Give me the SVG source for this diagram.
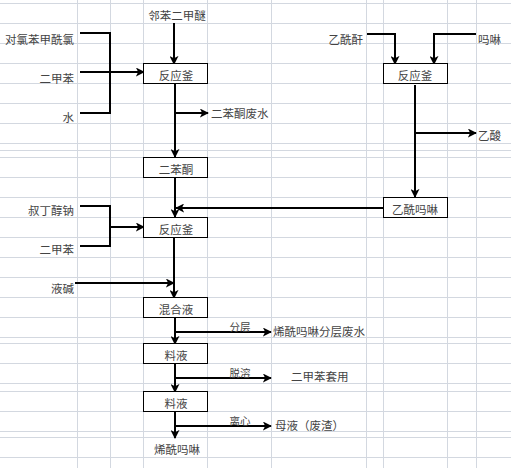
<svg xmlns="http://www.w3.org/2000/svg" width="511" height="468" viewBox="0 0 511 468">
<style>
.g{stroke:#d3d8e0;stroke-width:1;fill:none}
.box{fill:#fff;stroke:#000;stroke-width:1}
.t{font-family:"Noto Sans CJK SC","Noto Sans",sans-serif;font-size:11.5px;fill:#444;dominant-baseline:central}
.m{text-anchor:middle}
.e{text-anchor:end}
.s{font-size:10.5px}
.c{fill:none;stroke:#000;stroke-width:2}
</style>
<defs>
<marker id="arr" viewBox="0 0 10 10" refX="9" refY="5" markerWidth="9" markerHeight="9" markerUnits="userSpaceOnUse" orient="auto">
<path d="M0,0 L10,5 L0,10 L2.5,5 z" fill="#000"/>
</marker>
</defs>
<rect width="511" height="468" fill="#fff"/>
<g id="grid" class="g">
<path d="M0,3.5H511M0,23.5H511M0,43.5H511M0,63.5H511M0,83.5H511M0,103.5H511M0,123.5H511M0,143.5H511M0,150.5H511M0,157.5H511M0,177.5H511M0,197.5H511M0,217.5H511M0,237.5H511M0,257.5H511M0,277.5H511M0,297.5H511M0,317.5H511M0,337.5H511M0,343.5H511M0,363.5H511M0,383.5H511M0,391.5H511M0,411.5H511M0,431.5H511M0,437.5H511M0,457.5H511"/>
<path d="M77.5,0V468M110.5,0V468M143.5,0V468M207.5,0V468M271.5,0V468M366.5,0V468M383.5,0V468M447.5,0V468M476.5,0V468"/>
</g>
<g id="connectors">
<polyline class="c" points="80,33 110,33 110,113 80,113"/>
<line class="c" x1="80" y1="72" x2="144" y2="72" marker-end="url(#arr)"/>
<line class="c" x1="174" y1="23" x2="174" y2="64" marker-end="url(#arr)"/>
<line class="c" x1="175" y1="84" x2="175" y2="157" marker-end="url(#arr)"/>
<line class="c" x1="175" y1="113" x2="208" y2="113" marker-end="url(#arr)"/>
<polyline class="c" points="367,34 395,34 395,64" marker-end="url(#arr)"/>
<polyline class="c" points="476,34 434,34 434,64" marker-end="url(#arr)"/>
<line class="c" x1="415" y1="85" x2="415" y2="197" marker-end="url(#arr)"/>
<line class="c" x1="415" y1="133" x2="476" y2="133" marker-end="url(#arr)"/>
<line class="c" x1="383" y1="208" x2="176" y2="208" marker-end="url(#arr)"/>
<line class="c" x1="175" y1="177" x2="175" y2="217" marker-end="url(#arr)"/>
<polyline class="c" points="80,206 110,206 110,246 80,246"/>
<line class="c" x1="110" y1="227" x2="144" y2="227" marker-end="url(#arr)"/>
<line class="c" x1="174" y1="237" x2="174" y2="298" marker-end="url(#arr)"/>
<line class="c" x1="75" y1="283" x2="174" y2="283" marker-end="url(#arr)"/>
<line class="c" x1="175" y1="318" x2="175" y2="344" marker-end="url(#arr)"/>
<line class="c" x1="175" y1="332" x2="271" y2="332" marker-end="url(#arr)"/>
<line class="c" x1="175" y1="364" x2="175" y2="392" marker-end="url(#arr)"/>
<line class="c" x1="175" y1="378" x2="271" y2="378" marker-end="url(#arr)"/>
<line class="c" x1="175" y1="412" x2="175" y2="438" marker-end="url(#arr)"/>
<line class="c" x1="175" y1="426" x2="271" y2="426" marker-end="url(#arr)"/>
</g>
<g id="n-lbf"><text class="t m" x="177" y="15">邻苯二甲醚</text></g>
<g id="n-dlb"><text class="t e" x="74" y="39">对氯苯甲酰氯</text></g>
<g id="n-xyl1"><text class="t e" x="74" y="78">二甲苯</text></g>
<g id="n-water"><text class="t e" x="74" y="117">水</text></g>
<g id="n-r1"><rect class="box" x="143.5" y="63.5" width="64" height="20"/><text class="t m" x="176" y="75">反应釜</text></g>
<g id="n-ww1"><text class="t" x="211" y="113">二苯酮废水</text></g>
<g id="n-ac2o"><text class="t e" x="363" y="39">乙酰酐</text></g>
<g id="n-morph"><text class="t" x="478" y="39">吗啉</text></g>
<g id="n-r2"><rect class="box" x="383.5" y="63.5" width="64" height="20"/><text class="t m" x="415" y="75">反应釜</text></g>
<g id="n-acoh"><text class="t" x="478" y="135">乙酸</text></g>
<g id="n-bp"><rect class="box" x="143.5" y="157.5" width="64" height="20"/><text class="t m" x="176" y="169">二苯酮</text></g>
<g id="n-acm"><rect class="box" x="383.5" y="197.5" width="64" height="20"/><text class="t m" x="415" y="209">乙酰吗啉</text></g>
<g id="n-tbuona"><text class="t e" x="74" y="210">叔丁醇钠</text></g>
<g id="n-r3"><rect class="box" x="143.5" y="217.5" width="64" height="20"/><text class="t m" x="176" y="229">反应釜</text></g>
<g id="n-xyl2"><text class="t e" x="74" y="249">二甲苯</text></g>
<g id="n-naoh"><text class="t e" x="74" y="288">液碱</text></g>
<g id="n-mix"><rect class="box" x="143.5" y="297.5" width="64" height="20"/><text class="t m" x="176" y="309">混合液</text></g>
<g id="n-ww2"><text class="t s m" x="240" y="326">分层</text><text class="t" x="273" y="331">烯酰吗啉分层废水</text></g>
<g id="n-liq1"><rect class="box" x="143.5" y="343.5" width="64" height="20"/><text class="t m" x="176" y="355">料液</text></g>
<g id="n-xylr"><text class="t s m" x="240" y="372">脱溶</text><text class="t" x="291" y="376">二甲苯套用</text></g>
<g id="n-liq2"><rect class="box" x="143.5" y="391.5" width="64" height="20"/><text class="t m" x="176" y="403">料液</text></g>
<g id="n-ml"><text class="t s m" x="240" y="420">离心</text><text class="t" x="275" y="425">母液（废渣）</text></g>
<g id="n-dmm"><text class="t m" x="177" y="449">烯酰吗啉</text></g>
</svg>
